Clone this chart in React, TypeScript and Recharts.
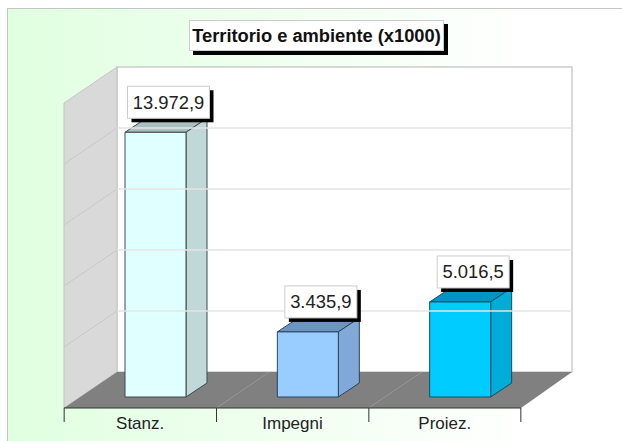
import React from 'react';
import { BarChart, Bar, XAxis, YAxis, ReferenceArea, ReferenceLine, LabelList } from 'recharts';

const CATEGORIES = ['Stanz.', 'Impegni', 'Proiez.'];
const VALUES = [13972.9, 3435.9, 5016.5];
const VALUE_LABELS = ['13.972,9', '3.435,9', '5.016,5'];
const GRID_VALUES = [3220, 6440, 9660, 12880];
const AXIS_MAX = 16100;

const FRONT_COLORS = ['#e0ffff', '#99ccff', '#00ccff'];
const SIDE_COLORS = ['#c0d8d8', '#80a8d8', '#00acd8'];
const TOP_COLORS = ['#a8c0c0', '#6c94c0', '#0094c0'];
const EDGE_COLORS = ['#3c4a4a', '#2c4460', '#1c4a60'];

const FONT = '"Liberation Sans", Arial, sans-serif';

// oblique projection used for the fake 3D look
const WALL_DX = 53;
const WALL_RIGHT_DX = 51;
const WALL_DY = 36;
const BAR_DX = 21;
const BAR_DY = 14;
const BAR_SHIFT_X = 15;
const BAR_SHIFT_Y = 11;

const data = CATEGORIES.map((name, i) => ({ name, value: VALUES[i], label: VALUE_LABELS[i] }));

const pts = (list: number[][]) => list.map((p) => p.join(',')).join(' ');

const Room = ({ x, y, width, height }: any) => {
  const bottom = y + height;
  const right = x + width;
  const band = width / CATEGORIES.length;
  return (
    <g>
      <polygon
        points={pts([[x + WALL_DX, y - WALL_DY], [right + WALL_RIGHT_DX, y - WALL_DY], [right + WALL_RIGHT_DX, bottom - WALL_DY], [x + WALL_DX, bottom - WALL_DY]])}
        fill="#ffffff"
        stroke="#cccccc"
        strokeWidth={1.5}
      />
      <polygon
        points={pts([[x, y], [x + WALL_DX, y - WALL_DY], [x + WALL_DX, bottom - WALL_DY], [x, bottom]])}
        fill="#d9d9d9"
        stroke="#c4c4c4"
      />
      <polygon
        points={pts([[x, bottom], [x + WALL_DX, bottom - WALL_DY], [right + WALL_RIGHT_DX, bottom - WALL_DY], [right, bottom]])}
        fill="#808080"
      />
      {[1, 2].map((i) => (
        <line
          key={i}
          x1={x + band * i}
          y1={bottom}
          x2={x + band * i + WALL_DX}
          y2={bottom - WALL_DY}
          stroke="#a0a0a0"
          strokeWidth={0.7}
        />
      ))}
      <line x1={x} y1={bottom} x2={right} y2={bottom} stroke="#333333" />
    </g>
  );
};

const WallGridLine = ({ x1, x2, y1 }: any) => (
  <g>
    <line x1={x1} y1={y1} x2={x1 + WALL_DX} y2={y1 - WALL_DY} stroke="#c8c8c8" />
    <line x1={x1 + WALL_DX} y1={y1 - WALL_DY} x2={x2 + WALL_RIGHT_DX} y2={y1 - WALL_DY} stroke="#e4e4e4" strokeWidth={1.5} />
  </g>
);

const Box3D = ({ x, y, width, height, index }: any) => {
  const l = x + BAR_SHIFT_X;
  const t = y - BAR_SHIFT_Y;
  const r = l + width;
  const b = t + height;
  const edge = EDGE_COLORS[index];
  return (
    <g stroke={edge} strokeWidth={1} strokeLinejoin="round">
      <polygon points={pts([[l, t], [r, t], [r + BAR_DX, t - BAR_DY], [l + BAR_DX, t - BAR_DY]])} fill={TOP_COLORS[index]} />
      <polygon points={pts([[r, t], [r + BAR_DX, t - BAR_DY], [r + BAR_DX, b - BAR_DY], [r, b]])} fill={SIDE_COLORS[index]} />
      <rect x={l} y={t} width={width} height={height} fill={FRONT_COLORS[index]} />
    </g>
  );
};

const ValueBox = ({ x, y, width, index }: any) => {
  const label = VALUE_LABELS[index];
  const boxW = label.length * 10 + 2;
  const boxH = 32;
  const cx = x + width / 2 + BAR_SHIFT_X + 13;
  const bottom = y - BAR_SHIFT_Y - BAR_DY;
  return (
    <g>
      <rect x={cx - boxW / 2 + 4} y={bottom - boxH + 4} width={boxW} height={boxH} fill="#000000" />
      <rect x={cx - boxW / 2} y={bottom - boxH} width={boxW} height={boxH} fill="#ffffff" stroke="#cccccc" />
      <text x={cx} y={bottom - 9.5} textAnchor="middle" fontFamily={FONT} fontSize={18.4} fill="#222222">
        {label}
      </text>
    </g>
  );
};

const CategoryTick = ({ x, y, payload, index }: any) => {
  const half = 76;
  const axisY = y - 8;
  return (
    <g>
      <line x1={x - half} y1={axisY} x2={x - half} y2={axisY + 14} stroke="#333333" />
      {index === CATEGORIES.length - 1 && <line x1={x + half} y1={axisY} x2={x + half} y2={axisY + 14} stroke="#333333" />}
      <text x={x} y={axisY + 21} textAnchor="middle" fontFamily={FONT} fontSize={17} fill="#222222">
        {payload.value}
      </text>
    </g>
  );
};

export default function App() {
  return (
    <div style={{ position: 'absolute', left: 0, top: 0, width: 622, height: 441, background: '#ffffff', overflow: 'hidden' }}>
      <div
        style={{
          position: 'absolute',
          left: 7,
          top: 8,
          width: 615,
          height: 433,
          borderLeft: '1px solid #c4c4c4',
          borderTop: '1px solid #c4c4c4',
          background: 'linear-gradient(90deg, #e0ffe0 0%, #ffffff 85%)',
        }}
      />
      <BarChart
        width={622}
        height={441}
        data={data}
        margin={{ top: 103, right: 101, bottom: 0, left: 64 }}
        barSize={61}
        style={{ position: 'absolute', left: 0, top: 0 }}
      >
        <XAxis dataKey="name" axisLine={false} tickLine={false} tick={<CategoryTick />} height={33} interval={0} />
        <YAxis hide domain={[0, AXIS_MAX]} />
        <ReferenceArea y1={0} y2={AXIS_MAX} shape={<Room />} ifOverflow="visible" />
        {GRID_VALUES.map((v) => (
          <ReferenceLine key={v} y={v} shape={<WallGridLine />} ifOverflow="visible" />
        ))}
        <Bar dataKey="value" shape={<Box3D />} isAnimationActive={false}>
          <LabelList dataKey="label" content={<ValueBox />} />
        </Bar>
      </BarChart>
      <div
        style={{
          position: 'absolute',
          left: 189,
          top: 20,
          width: 255,
          height: 31,
          boxSizing: 'border-box',
          background: '#ffffff',
          border: '1px solid #cccccc',
          boxShadow: '4px 4px 0 #000000',
          fontFamily: FONT,
          fontWeight: 'bold',
          fontSize: 18.3,
          lineHeight: '29px',
          textAlign: 'center',
          color: '#111111',
          whiteSpace: 'nowrap',
        }}
      >
        Territorio e ambiente (x1000)
      </div>
    </div>
  );
}
